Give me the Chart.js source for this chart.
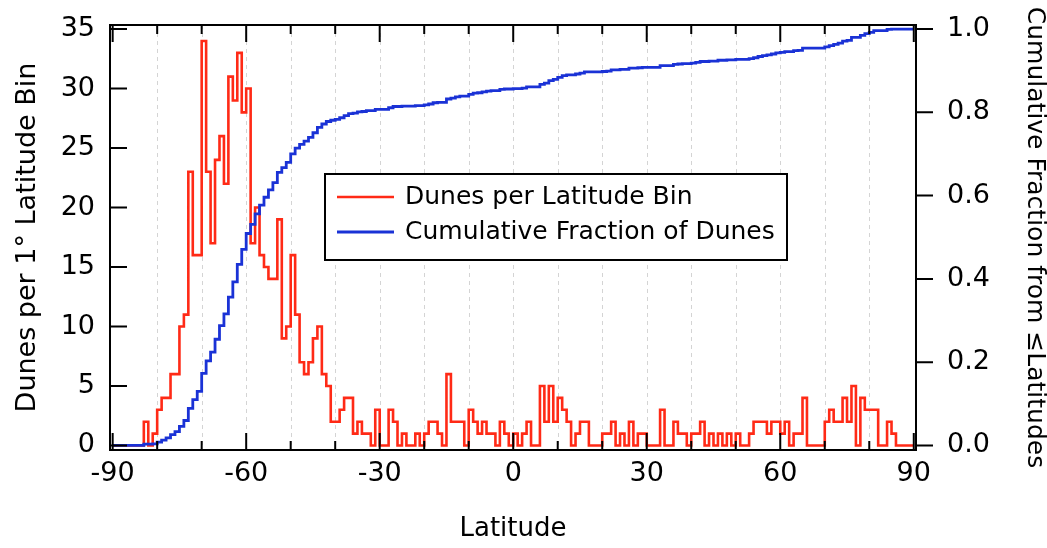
<!DOCTYPE html>
<html>
<head>
<meta charset="utf-8">
<script src="https://cdn.jsdelivr.net/npm/chart.js@4/dist/chart.umd.min.js"></script>
<style>
html,body{margin:0;padding:0;background:#fff;}
#wrap{width:1047px;height:548px;position:relative;}
</style>
</head>
<body>
<div id="wrap"><canvas id="c" width="1047" height="548"></canvas></div>
<script>
// ---- data (1-degree latitude bins, left edge of each bin) ----
const latitudeBinStart = Array.from({length: 180}, (_, i) => -90 + i);
const dunesPerBin = [
  0,0,0,0,0,0,0,
  2,0,1,3,4,4,6,6,10,
  11,23,16,16,34,23,17,24,26,22,
  31,29,33,28,30,17,20,16,15,14,
  14,19,9,10,16,11,7,6,7,9,
  10,6,5,2,2,3,4,4,1,2,
  1,1,0,3,0,0,3,2,0,1,
  0,0,1,0,1,2,2,1,0,6,
  2,2,2,0,3,2,1,2,1,1,
  0,2,1,0,
  1,0,1,2,0,0,5,2,5,2,
  4,3,2,0,1,2,2,0,0,0,
  1,1,2,0,1,0,2,0,1,1,
  0,0,0,3,0,0,2,1,1,0,
  1,1,2,0,1,0,1,0,1,0,
  1,0,0,1,2,2,2,1,2,2,
  1,2,0,1,1,4,0,0,0,0,
  2,3,2,2,4,2,5,0,4,3,
  3,3,0,0,2,1,0,0,0,0
];
const cumulativeFraction = [
  0,0,0,0,0,0,0,
  0.003,0.003,0.004,0.008,0.013,0.018,0.026,0.033,0.046,
  0.060,0.089,0.110,0.130,0.173,0.203,0.224,0.255,0.288,0.316,
  0.356,0.393,0.435,0.471,0.509,0.531,0.556,0.577,0.596,0.614,
  0.631,0.656,0.667,0.680,0.700,0.714,0.723,0.731,0.740,0.751,
  0.764,0.772,0.778,0.781,0.783,0.787,0.792,0.797,0.798,0.801,
  0.802,0.804,0.804,0.807,0.807,0.807,0.811,0.814,0.814,0.815,
  0.815,0.815,0.816,0.816,0.818,0.820,0.823,0.824,0.824,0.832,
  0.834,0.837,0.839,0.839,0.843,0.846,0.847,0.849,0.851,0.852,
  0.852,0.855,0.856,0.856,
  0.857,0.857,0.858,0.861,0.861,0.861,0.867,0.870,0.876,0.879,
  0.884,0.888,0.890,0.890,0.892,0.894,0.897,0.897,0.897,0.897,
  0.898,0.899,0.902,0.902,0.903,0.903,0.906,0.906,0.907,0.908,
  0.908,0.908,0.908,0.912,0.912,0.912,0.915,0.916,0.917,0.917,
  0.918,0.920,0.922,0.922,0.923,0.923,0.925,0.925,0.926,0.926,
  0.927,0.927,0.927,0.929,0.931,0.934,0.936,0.938,0.940,0.943,
  0.944,0.946,0.946,0.948,0.949,0.954,0.954,0.954,0.954,0.954,
  0.957,0.960,0.963,0.966,0.971,0.973,0.980,0.980,0.985,0.989,
  0.992,0.996,0.996,0.996,0.999,1.000,1.000,1.000,1.000,1.000
];
const xTickValues = [-90, -60, -30, 0, 30, 60, 90];
const xMinorTickValues = [-90,-80,-70,-60,-50,-40,-30,-20,-10,0,10,20,30,40,50,60,70,80,90];
const xGridValues = [-80,-70,-60,-50,-40,-30,-20,-10,0,10,20,30,40,50,60,70,80];
const leftTickValues = [0, 5, 10, 15, 20, 25, 30, 35];
const rightTickValues = [0, 0.2, 0.4, 0.6, 0.8, 1.0];
const seriesNames = ['Dunes per Latitude Bin', 'Cumulative Fraction of Dunes'];
const xTitle = 'Latitude';
const leftTitle = 'Dunes per 1° Latitude Bin';
const rightTitle = 'Cumulative Fraction from ≤Latitudes';

const RED = '#ff2a16';
const BLUE = '#1a32d6';
const FONT = "'DejaVu Sans', 'Liberation Sans', sans-serif";

// step points: each bin value spans [start, start+1]; closing point at the last edge
function stepPoints(values) {
  const pts = latitudeBinStart.map((x, i) => ({x: x, y: values[i]}));
  pts.push({x: latitudeBinStart[latitudeBinStart.length - 1] + 1, y: values[values.length - 1]});
  return pts;
}

Chart.defaults.font.family = FONT;
Chart.defaults.color = '#000';

const framePlugin = {
  id: 'framePlugin',
  beforeDatasetsDraw(chart) {
    const {ctx, chartArea: a, scales} = chart;
    ctx.save();
    ctx.strokeStyle = '#d4d4d4';
    ctx.lineWidth = 1;
    ctx.setLineDash([4, 4]);
    for (const v of xGridValues) {
      const px = Math.round(scales.x.getPixelForValue(v)) + 0.5;
      ctx.beginPath(); ctx.moveTo(px, a.top); ctx.lineTo(px, a.bottom); ctx.stroke();
    }
    ctx.restore();
  },
  afterDatasetsDraw(chart) {
    const {ctx, chartArea: a, scales} = chart;
    ctx.save();
    ctx.strokeStyle = '#000';
    ctx.lineWidth = 2;
    ctx.setLineDash([]);
    ctx.strokeRect(a.left, a.top, a.right - a.left, a.bottom - a.top);
    ctx.beginPath();
    for (const v of leftTickValues) {
      const py = scales.y.getPixelForValue(v);
      ctx.moveTo(a.left, py); ctx.lineTo(a.left + 17, py);
    }
    for (const v of rightTickValues) {
      const py = scales.y2.getPixelForValue(v);
      ctx.moveTo(a.right, py); ctx.lineTo(a.right + 17, py);
    }
    for (const v of xMinorTickValues) {
      const px = scales.x.getPixelForValue(v);
      const len = (v % 30 === 0) ? 17 : 9;
      ctx.moveTo(px, a.bottom); ctx.lineTo(px, a.bottom - len);
      ctx.moveTo(px, a.top); ctx.lineTo(px, a.top + len);
    }
    ctx.stroke();

    // legend box
    const bx = 325, by = 174, bw = 462, bh = 86;
    ctx.fillStyle = '#fff';
    ctx.fillRect(bx, by, bw, bh);
    ctx.strokeRect(bx, by, bw, bh);
    const rows = [[RED, 2.6, seriesNames[0], 197], [BLUE, 2.8, seriesNames[1], 232]];
    ctx.font = '25px ' + FONT;
    ctx.textBaseline = 'middle';
    ctx.textAlign = 'left';
    for (const [col, w, txt, y] of rows) {
      ctx.strokeStyle = col; ctx.lineWidth = w;
      ctx.beginPath(); ctx.moveTo(337, y); ctx.lineTo(394, y); ctx.stroke();
      ctx.fillStyle = '#000';
      ctx.fillText(txt, 405, y);
    }
    ctx.restore();
  }
};

function fixVertical(width) {
  return s => { s.width = width; s.paddingTop = 0; s.paddingBottom = 0; };
}

new Chart(document.getElementById('c'), {
  type: 'line',
  data: {
    datasets: [
      {
        label: seriesNames[0],
        data: stepPoints(dunesPerBin),
        yAxisID: 'y',
        borderColor: RED,
        borderWidth: 2.6,
        stepped: true,
        pointRadius: 0,
        fill: false,
        order: 2
      },
      {
        label: seriesNames[1],
        data: stepPoints(cumulativeFraction),
        yAxisID: 'y2',
        borderColor: BLUE,
        borderWidth: 2.8,
        stepped: true,
        pointRadius: 0,
        fill: false,
        order: 1
      }
    ]
  },
  options: {
    responsive: false,
    animation: false,
    events: [],
    layout: {padding: {top: 25, left: 0, right: 0, bottom: 0}},
    plugins: {legend: {display: false}, tooltip: {enabled: false}},
    scales: {
      x: {
        type: 'linear', position: 'bottom', min: -90.6, max: 90.5,
        afterBuildTicks: s => { s.ticks = xTickValues.map(v => ({value: v})); },
        afterFit: s => { s.height = 98; },
        grid: {display: false, drawTicks: false},
        border: {display: false},
        ticks: {font: {size: 27}, color: '#000', padding: 8, maxRotation: 0, autoSkip: false,
                callback: v => String(v)},
        title: {display: true, text: xTitle, color: '#000', font: {size: 26, lineHeight: 1},
                padding: {top: 0, bottom: 6}}
      },
      y: {
        type: 'linear', position: 'left', min: -0.38, max: 35.34,
        afterBuildTicks: s => { s.ticks = leftTickValues.map(v => ({value: v})); },
        afterFit: fixVertical(110),
        grid: {display: false, drawTicks: false},
        border: {display: false},
        ticks: {font: {size: 27}, color: '#000', padding: 15, callback: v => String(v)},
        title: {display: true, text: leftTitle, color: '#000', font: {size: 27, lineHeight: 1},
                padding: {top: 14, bottom: 0}}
      },
      y2: {
        type: 'linear', position: 'right', min: -0.0109, max: 1.0097,
        afterBuildTicks: s => { s.ticks = rightTickValues.map(v => ({value: v})); },
        afterFit: fixVertical(131),
        grid: {display: false, drawTicks: false},
        border: {display: false},
        ticks: {font: {size: 27}, color: '#000', padding: 31, callback: v => Number(v).toFixed(1)},
        title: {display: true, text: rightTitle, color: '#000', font: {size: 25, lineHeight: 1},
                padding: {top: 0, bottom: 0}}
      }
    }
  },
  plugins: [framePlugin]
});
</script>
</body>
</html>
